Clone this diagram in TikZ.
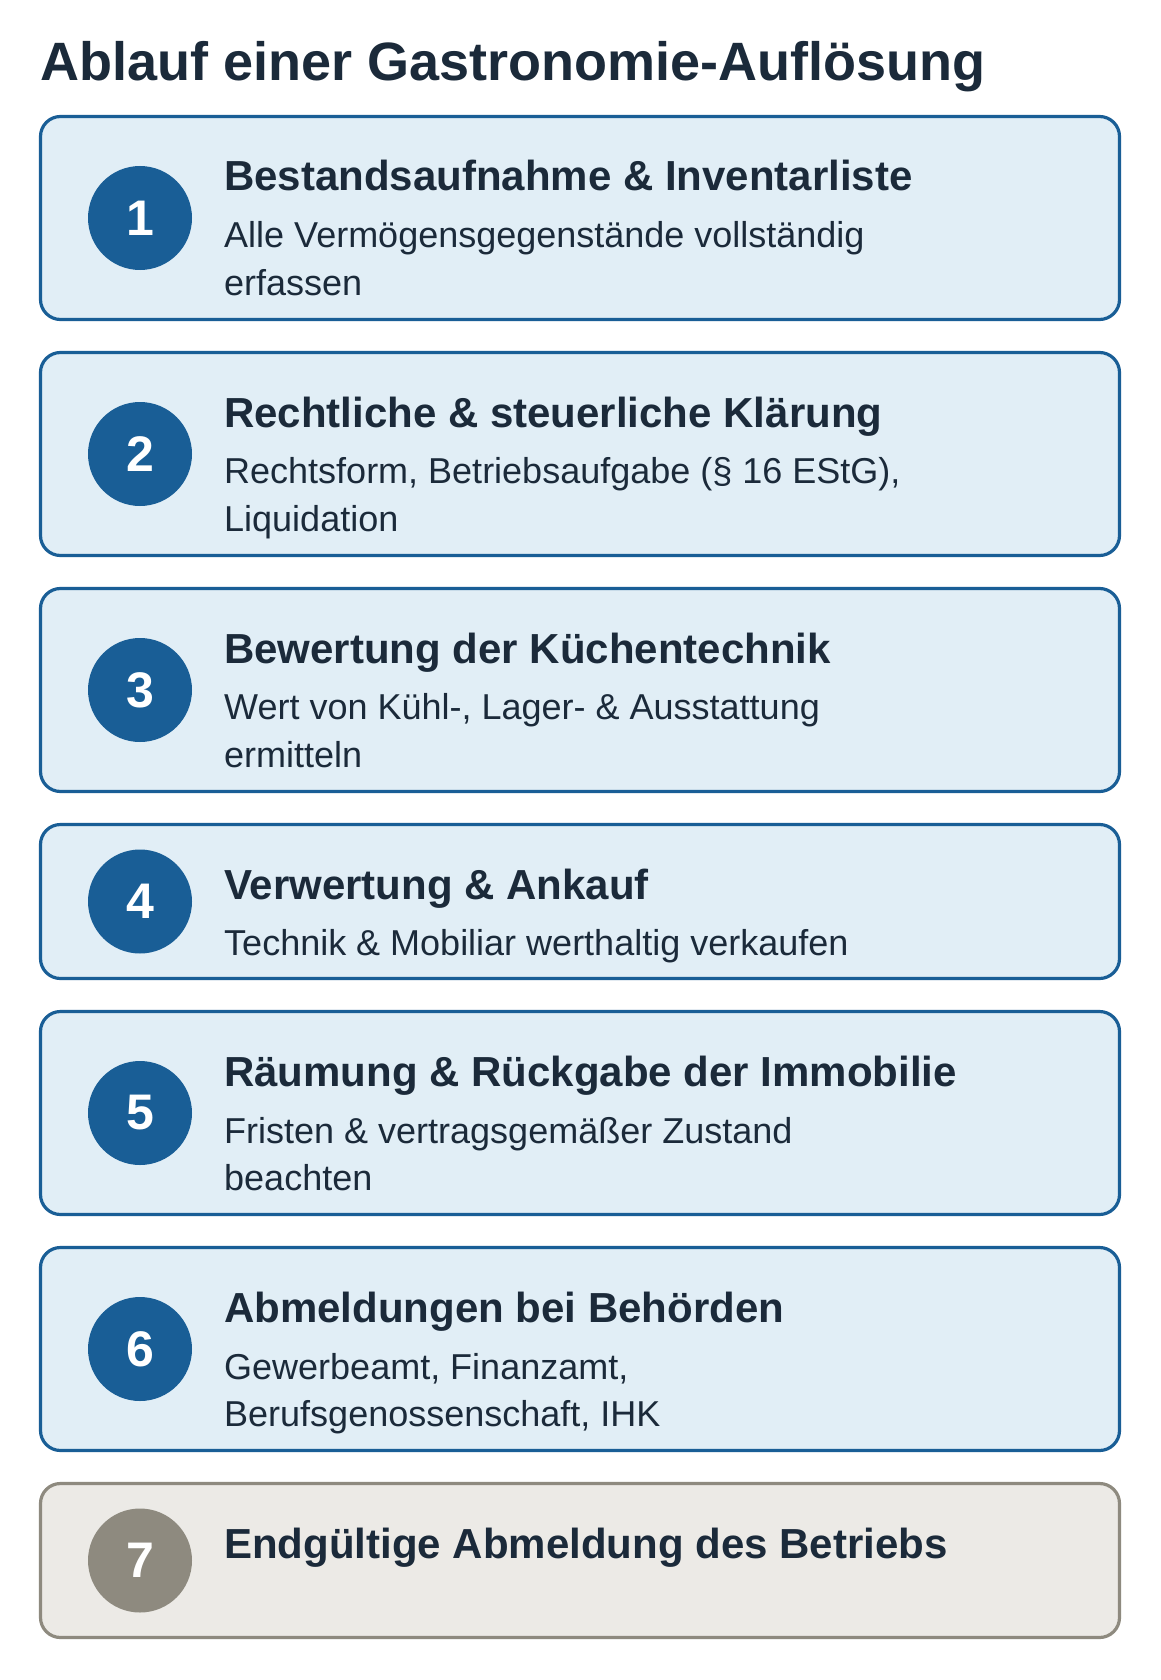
\documentclass[tikz,border=0pt]{standalone}
\usepackage{fontspec}
\setmainfont{Liberation Sans}
\definecolor{bluemain}{HTML}{195E96}
\definecolor{bluefill}{HTML}{E1EEF6}
\definecolor{greymain}{HTML}{8E8A7F}
\definecolor{greyfill}{HTML}{ECEAE6}
\definecolor{ink}{HTML}{1B2A3A}
\tikzset{
  card/.style={line width=3.2pt, rounded corners=20pt},
  bluecard/.style={card, draw=bluemain, fill=bluefill},
  greycard/.style={card, draw=greymain, fill=greyfill},
  numdot/.style={circle, inner sep=0pt, minimum size=104pt, text=white,
    font=\fontsize{50}{50}\selectfont\bfseries},
  maintitle/.style={anchor=base west, inner sep=0pt, text=ink,
    font=\fontsize{54}{60}\selectfont\bfseries},
  steptitle/.style={anchor=base west, inner sep=0pt, text=ink,
    font=\fontsize{42}{48}\selectfont\bfseries},
  stepdesc/.style={anchor=base west, inner sep=0pt, text=ink,
    font=\fontsize{36}{47}\selectfont},
}
\begin{document}
\begin{tikzpicture}[x=1pt,y=-1pt]
\useasboundingbox (0,0) rectangle (1160,1680);
\fill[white] (0,0) rectangle (1160,1680);
\node[maintitle] (title) at (40,80.5) {Ablauf einer Gastronomie-Auflösung};

% card 1
\draw[bluecard] (40.5,116.5) rectangle (1119.5,319.5);
\node[numdot, fill=bluemain] (c1) at (140,218) {1};
\node[steptitle] (t1) at (224,191) {Bestandsaufnahme \& Inventarliste};
\node[stepdesc] (d1a) at (224,247.5) {Alle Vermögensgegenstände vollständig};
\node[stepdesc] (d1b) at (224,295) {erfassen};

% card 2
\draw[bluecard] (40.5,352.5) rectangle (1119.5,555.5);
\node[numdot, fill=bluemain] (c2) at (140,454) {2};
\node[steptitle] (t2) at (224,427) {Rechtliche \& steuerliche Klärung};
\node[stepdesc] (d2a) at (224,483.5) {Rechtsform, Betriebsaufgabe (§ 16 EStG),};
\node[stepdesc] (d2b) at (224,531) {Liquidation};

% card 3
\draw[bluecard] (40.5,588.5) rectangle (1119.5,791.5);
\node[numdot, fill=bluemain] (c3) at (140,690) {3};
\node[steptitle] (t3) at (224,663) {Bewertung der Küchentechnik};
\node[stepdesc] (d3a) at (224,719.5) {Wert von Kühl-, Lager- \& Ausstattung};
\node[stepdesc] (d3b) at (224,767) {ermitteln};

% card 4
\draw[bluecard] (40.5,824.5) rectangle (1119.5,978.5);
\node[numdot, fill=bluemain] (c4) at (140,901.5) {4};
\node[steptitle] (t4) at (224,899) {Verwertung \& Ankauf};
\node[stepdesc] (d4a) at (224,955.5) {Technik \& Mobiliar werthaltig verkaufen};

% card 5
\draw[bluecard] (40.5,1011.5) rectangle (1119.5,1214.5);
\node[numdot, fill=bluemain] (c5) at (140,1113) {5};
\node[steptitle] (t5) at (224,1086) {Räumung \& Rückgabe der Immobilie};
\node[stepdesc] (d5a) at (224,1143) {Fristen \& vertragsgemäßer Zustand};
\node[stepdesc] (d5b) at (224,1190.5) {beachten};

% card 6
\draw[bluecard] (40.5,1247.5) rectangle (1119.5,1450.5);
\node[numdot, fill=bluemain] (c6) at (140,1349) {6};
\node[steptitle] (t6) at (224,1322) {Abmeldungen bei Behörden};
\node[stepdesc] (d6a) at (224,1379) {Gewerbeamt, Finanzamt,};
\node[stepdesc] (d6b) at (224,1426.5) {Berufsgenossenschaft, IHK};

% card 7
\draw[greycard] (40.5,1483.5) rectangle (1119.5,1637.5);
\node[numdot, fill=greymain] (c7) at (140,1560.5) {7};
\node[steptitle] (t7) at (224,1558.5) {Endgültige Abmeldung des Betriebs};
\end{tikzpicture}
\end{document}
